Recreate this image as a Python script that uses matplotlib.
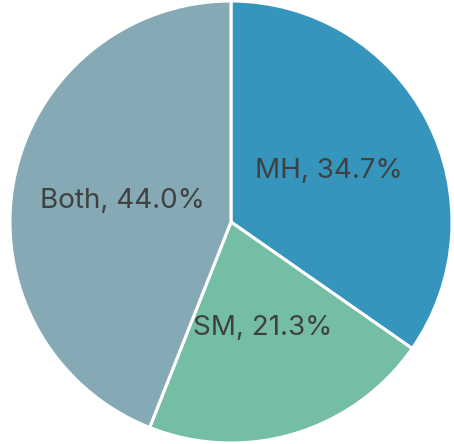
import matplotlib
matplotlib.use("Agg")
import matplotlib.pyplot as plt
import numpy as np

labels = ["MH", "SM", "Both"]
values = [34.7, 21.3, 44.0]
colors = ["#3695bd", "#75bea6", "#86aab5"]

plt.rcParams['font.family'] = ['Inter', 'DejaVu Sans']

fig = plt.figure(figsize=(4.54, 4.44), dpi=100)
ax = fig.add_axes([0.0, 0.0, 1.0, 1.0])

ax.pie(values, colors=colors, startangle=90, counterclock=False,
       wedgeprops=dict(edgecolor="white", linewidth=2.2), radius=1.0)

# labels sit halfway out along each slice's middle angle
total = sum(values)
start = 90.0
for lab, v in zip(labels, values):
    ang = start - v / total * 360 / 2
    start -= v / total * 360
    x = 0.5 * np.cos(np.radians(ang))
    y = 0.5 * np.sin(np.radians(ang))
    ax.text(x, y, f"{lab}, {v:.1f}%", ha="center", va="center",
            fontsize=20, color="#404040")

ax.set_aspect("equal")
ax.set_xlim(-1.0 - 9 / 222, 1.0 + 1 / 222)
ax.set_ylim(-1.0 - 1 / 222, 1.0 + 1 / 222)
ax.axis("off")
fig.savefig("out.png", dpi=100)
